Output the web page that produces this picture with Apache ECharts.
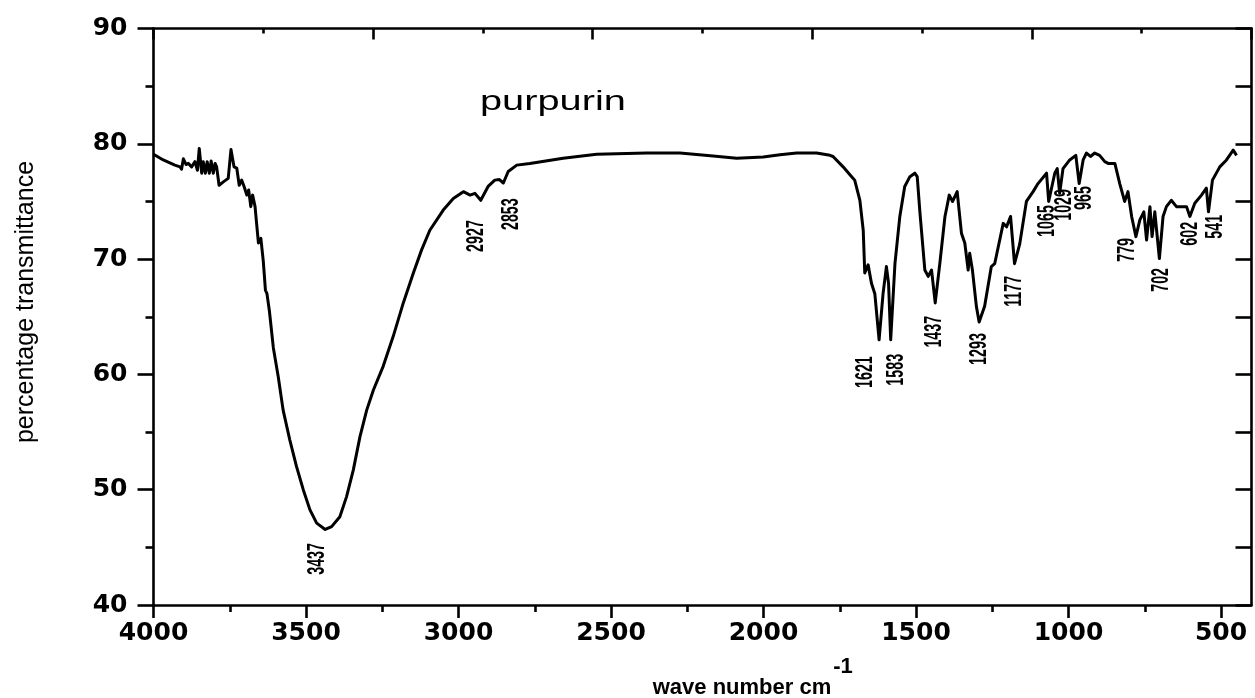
<!DOCTYPE html>
<html>
<head>
<meta charset="utf-8">
<title>purpurin IR spectrum</title>
<script src="https://cdn.jsdelivr.net/npm/echarts@6/dist/echarts.min.js"></script>
<style>
  html, body { margin: 0; padding: 0; background: #fff; }
  #chart { width: 1255px; height: 698px; }
</style>
</head>
<body>
<div id="chart"></div>
<script>
// FTIR spectrum of purpurin: wavenumber (cm-1) and percentage transmittance
const wavenumber = [
  4000, 3968, 3930, 3913, 3908, 3902, 3893, 3886, 3875, 3864, 3856, 3850, 3842, 3837, 3830,
  3824, 3817, 3811, 3804, 3798, 3793, 3785, 3771, 3755, 3746, 3736, 3727, 3719, 3711, 3703,
  3694, 3688, 3681, 3675, 3667, 3662, 3656, 3648, 3640, 3633, 3628, 3620, 3607, 3591, 3575,
  3553, 3531, 3509, 3487, 3465, 3437, 3416, 3389, 3367, 3345, 3323, 3301, 3279, 3247, 3214,
  3181, 3148, 3121, 3094, 3050, 3017, 2984, 2962, 2946, 2927, 2903, 2881, 2866, 2853, 2837,
  2809, 2766, 2657, 2547, 2383, 2274, 2165, 2088, 2001, 1946, 1891, 1826, 1782, 1772, 1739,
  1711, 1701, 1684, 1673, 1668, 1657, 1651, 1646, 1635, 1621, 1608, 1597, 1590, 1583, 1569,
  1553, 1537, 1520, 1504, 1496, 1487, 1471, 1460, 1449, 1437, 1422, 1405, 1391, 1380, 1365,
  1351, 1340, 1329, 1324, 1315, 1302, 1293, 1275, 1253, 1242, 1214, 1203, 1190, 1177, 1160,
  1138, 1116, 1100, 1072, 1065, 1045, 1037, 1029, 1018, 996, 976, 965, 952, 941, 928,
  914, 898, 881, 870, 848, 832, 816, 805, 793, 779, 766, 753, 744, 733, 726,
  717, 702, 690, 679, 663, 646, 613, 602, 586, 564, 548, 541, 528, 504, 482,
  460, 449
];
const transmittance = [
  79.1, 78.6, 78.15, 78.0, 77.8, 78.7, 78.2, 78.3, 78.0, 78.45, 77.7, 79.6, 77.45, 78.45, 77.45,
  78.45, 77.45, 78.5, 77.45, 78.3, 78.0, 76.4, 76.7, 77.0, 79.5, 78.0, 77.9, 76.4, 76.85, 76.3,
  75.55, 76.0, 74.55, 75.55, 74.55, 73.1, 71.4, 71.8, 69.8, 67.3, 67.0, 65.5, 62.3, 59.8, 56.9,
  54.3, 52.0, 50.0, 48.25, 47.1, 46.55, 46.8, 47.65, 49.4, 51.7, 54.6, 56.9, 58.65, 60.7, 63.3,
  66.2, 68.8, 70.8, 72.5, 74.25, 75.25, 75.85, 75.55, 75.7, 75.1, 76.3, 76.85, 76.9, 76.6, 77.6,
  78.15, 78.3, 78.75, 79.1, 79.2, 79.2, 78.95, 78.75, 78.85, 79.05, 79.2, 79.2, 79.0, 78.9, 78.0,
  77.15, 76.85, 75.1, 72.5, 68.8, 69.5, 69.35, 67.9, 67.0, 63.0, 67.0, 69.35, 67.9, 63.0, 69.6,
  73.7, 76.3, 77.15, 77.45, 77.15, 74.0, 69.05, 68.5, 69.05, 66.2, 69.6, 73.7, 75.55, 75.0, 75.85,
  72.25, 71.4, 69.05, 70.5, 69.05, 65.9, 64.55, 65.9, 69.35, 69.6, 73.1, 72.8, 73.7, 69.6, 71.3,
  75.0, 75.85, 76.55, 77.45, 75.0, 77.45, 77.85, 75.7, 77.85, 78.6, 79.0, 76.55, 78.6, 79.2, 78.9,
  79.2, 79.0, 78.45, 78.3, 78.3, 76.55, 75.0, 75.85, 73.7, 71.95, 73.4, 74.1, 71.65, 74.55, 71.95,
  74.1, 70.05, 73.7, 74.55, 75.1, 74.55, 74.55, 73.7, 74.85, 75.55, 76.15, 74.1, 76.85, 78.0, 78.6,
  79.45, 79.0
];

// Band assignments written beside the absorption minima
const peakText = ['3437', '2927', '2853', '1621', '1583', '1437', '1293', '1177',
                  '1065', '1029', '965', '779', '702', '602', '541'];
// Where each band label sits, in (wavenumber, transmittance) units
const peakLabelWn = [3462, 2942, 2826, 1665, 1564, 1438, 1291, 1176, 1069, 1012, 947, 806, 696, 599, 516];
const peakLabelT  = [44.0, 72.0, 73.9, 60.2, 60.4, 63.7, 62.2, 67.2, 73.3, 74.7, 75.3, 70.8, 68.2, 72.2, 72.8];

// Axis tick values
const xMajorTicks = [4000, 3500, 3000, 2500, 2000, 1500, 1000, 500];
const xMinorTicks = [3750, 3250, 2750, 2250, 1750, 1250, 750];

const spectrum = wavenumber.map((w, i) => [w, transmittance[i]]);
const peakLabels = peakText.map((t, i) => [peakLabelWn[i], peakLabelT[i], t]);

const chart = echarts.init(document.getElementById('chart'), null, { renderer: 'canvas' });

const tickFont = { fontFamily: 'DejaVu Sans', fontWeight: 'bold', fontSize: 25, color: '#000' };
const plainNumber = v => String(v);
const lineW = 2.6;

chart.setOption({
  animation: false,
  backgroundColor: '#fff',
  grid: { left: 153.5, right: 3.5, top: 28.5, bottom: 93, containLabel: false },
  xAxis: [
    {
      type: 'value', position: 'bottom', min: 400, max: 4000, inverse: true,
      axisLine: { show: true, lineStyle: { color: '#000', width: lineW } },
      axisTick: { show: true, inside: false, length: 13, customValues: xMajorTicks,
                  lineStyle: { color: '#000', width: lineW } },
      axisLabel: Object.assign({ margin: 16, customValues: xMajorTicks, formatter: plainNumber }, tickFont),
      splitLine: { show: false }
    },
    {
      type: 'value', position: 'bottom', min: 400, max: 4000, inverse: true,
      axisLine: { show: false },
      axisTick: { show: true, inside: false, length: 7, customValues: xMinorTicks,
                  lineStyle: { color: '#000', width: lineW } },
      axisLabel: { show: false },
      splitLine: { show: false }
    },
    {
      type: 'value', position: 'top', min: 0, max: 10, interval: 2,
      axisLine: { show: true, lineStyle: { color: '#000', width: lineW } },
      axisTick: { show: true, inside: true, length: 11, lineStyle: { color: '#000', width: lineW } },
      minorTick: { show: true, splitNumber: 2, length: 5, lineStyle: { color: '#000', width: lineW } },
      axisLabel: { show: false },
      splitLine: { show: false }
    }
  ],
  yAxis: [
    {
      type: 'value', position: 'left', min: 40, max: 90, interval: 10,
      axisLine: { show: true, lineStyle: { color: '#000', width: lineW } },
      axisTick: { show: true, inside: false, length: 16, lineStyle: { color: '#000', width: lineW } },
      minorTick: { show: true, splitNumber: 2, length: 8, lineStyle: { color: '#000', width: lineW } },
      axisLabel: Object.assign({ margin: 26, formatter: plainNumber }, tickFont),
      splitLine: { show: false }
    },
    {
      type: 'value', position: 'right', min: 40, max: 90, interval: 10,
      axisLine: { show: true, lineStyle: { color: '#000', width: lineW } },
      axisTick: { show: true, inside: true, length: 16, lineStyle: { color: '#000', width: lineW } },
      minorTick: { show: true, splitNumber: 2, length: 16, lineStyle: { color: '#000', width: lineW } },
      axisLabel: { show: false },
      splitLine: { show: false }
    }
  ],
  series: [
    {
      name: 'purpurin',
      type: 'line',
      xAxisIndex: 0,
      yAxisIndex: 0,
      data: spectrum,
      showSymbol: false,
      symbol: 'none',
      smooth: false,
      lineStyle: { color: '#000', width: 3, join: 'round' },
      z: 3
    },
    {
      name: 'bands',
      type: 'custom',
      xAxisIndex: 0,
      yAxisIndex: 0,
      data: peakLabels,
      renderItem: function (params, api) {
        const p = api.coord([api.value(0), api.value(1)]);
        return {
          type: 'text',
          x: p[0],
          y: p[1],
          rotation: Math.PI / 2,
          scaleX: 0.62,
          style: {
            text: peakLabels[params.dataIndex][2],
            font: 'bold 23px "Liberation Sans", Arial, sans-serif',
            fill: '#000',
            align: 'center',
            verticalAlign: 'middle'
          }
        };
      },
      z: 4
    }
  ],
  graphic: [
    {
      type: 'text', x: 480, y: 102, scaleX: 1.42,
      style: { text: 'purpurin', font: '28px "Liberation Sans", Arial, sans-serif',
               fill: '#000', align: 'left', verticalAlign: 'middle' }
    },
    {
      type: 'text', x: 26, y: 302, rotation: Math.PI / 2,
      style: { text: 'percentage transmittance', font: '25px "Liberation Sans", Arial, sans-serif',
               fill: '#000', align: 'center', verticalAlign: 'middle' }
    },
    {
      type: 'text', x: 742, y: 688,
      style: { text: 'wave number cm', font: 'bold 22px "Liberation Sans", Arial, sans-serif',
               fill: '#000', align: 'center', verticalAlign: 'middle' }
    },
    {
      type: 'text', x: 843, y: 667,
      style: { text: '-1', font: 'bold 22px "Liberation Sans", Arial, sans-serif',
               fill: '#000', align: 'center', verticalAlign: 'middle' }
    }
  ]
});
</script>
</body>
</html>
